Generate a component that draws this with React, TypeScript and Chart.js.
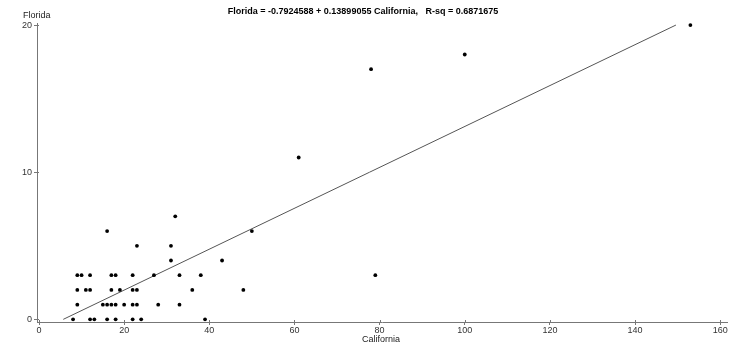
import React, { useEffect, useRef } from "react";
import { Chart, registerables } from "chart.js";

Chart.register(...registerables);

const californiaValues = [
  8, 12, 13, 16, 18, 22, 24, 39,
  9, 15, 16, 17, 18, 20, 22, 23, 28, 33,
  9, 11, 12, 17, 19, 22, 23, 36, 48,
  9, 10, 12, 17, 18, 22, 27, 33, 38, 79,
  31, 43,
  23, 31,
  16, 50,
  32,
  61,
  78,
  100,
  153,
];
const floridaValues = [
  0, 0, 0, 0, 0, 0, 0, 0,
  1, 1, 1, 1, 1, 1, 1, 1, 1, 1,
  2, 2, 2, 2, 2, 2, 2, 2, 2,
  3, 3, 3, 3, 3, 3, 3, 3, 3, 3,
  4, 4,
  5, 5,
  6, 6,
  7,
  11,
  17,
  18,
  20,
];
const intercept = -0.7924588;
const slope = 0.13899055;
const fitX = [5.7, 149.6];
const xTicks = [0, 20, 40, 60, 80, 100, 120, 140, 160];
const yTicks = [0, 10, 20];
const titleText = "Florida = -0.7924588 + 0.13899055 California,   R-sq = 0.6871675";
const xTitle = "California";
const yTitle = "Florida";

const FONT = "Arial, 'Liberation Sans', sans-serif";

const textPlugin = {
  id: "textPlugin",
  afterDraw(chart: any) {
    const ctx = chart.ctx;
    const { x, y } = chart.scales;
    const area = chart.chartArea;
    ctx.save();
    // inner half of the cross-shaped tick marks
    ctx.strokeStyle = "#777";
    ctx.lineWidth = 1;
    ctx.beginPath();
    xTicks.forEach((v) => {
      const px = Math.round(x.getPixelForValue(v)) + 0.5;
      ctx.moveTo(px, area.bottom);
      ctx.lineTo(px, area.bottom - 2);
    });
    yTicks.forEach((v) => {
      const py = Math.round(y.getPixelForValue(v)) + 0.5;
      ctx.moveTo(area.left, py);
      ctx.lineTo(area.left + 2, py);
    });
    ctx.stroke();

    ctx.fillStyle = "#000";
    ctx.textBaseline = "middle";
    ctx.textAlign = "center";
    ctx.font = `bold 9px ${FONT}`;
    ctx.fillText(titleText, 363, 12);
    ctx.fillStyle = "#222";
    ctx.font = `9px ${FONT}`;
    ctx.textAlign = "left";
    ctx.fillText(yTitle, 23, 16);
    ctx.textAlign = "center";
    ctx.fillText(xTitle, 381, 340);
    ctx.restore();
  },
};

export default function App() {
  const ref = useRef<HTMLCanvasElement>(null);
  useEffect(() => {
    const points = californiaValues.map((x, i) => ({ x, y: floridaValues[i] }));
    const fit = fitX.map((x) => ({ x, y: intercept + slope * x }));
    const chart = new Chart(ref.current!, {
      type: "scatter",
      data: {
        datasets: [
          {
            data: points,
            pointRadius: 1.9,
            pointBackgroundColor: "#000",
            pointBorderWidth: 0,
            showLine: false,
          },
          {
            data: fit,
            showLine: true,
            pointRadius: 0,
            borderColor: "#555",
            borderWidth: 1,
          },
        ],
      },
      options: {
        animation: false,
        responsive: false,
        layout: { padding: { top: 23, right: 2, left: 0, bottom: 0 } },
        plugins: { legend: { display: false }, tooltip: { enabled: false }, title: { display: false } },
        scales: {
          x: {
            type: "linear",
            min: -0.47,
            max: 161.6,
            afterFit: (s: any) => {
              s.height = 22;
            },
            afterBuildTicks: (s: any) => {
              s.ticks = xTicks.map((v) => ({ value: v }));
            },
            grid: { drawOnChartArea: false, drawTicks: true, tickLength: 3, color: "#777" },
            border: { display: true, color: "#777", width: 1 },
            ticks: { color: "#333", font: { size: 9, family: FONT }, padding: 0, maxRotation: 0, autoSkip: false },
          },
          y: {
            type: "linear",
            min: -0.18,
            max: 20.14,
            afterFit: (s: any) => {
              s.width = 37;
            },
            afterBuildTicks: (s: any) => {
              s.ticks = yTicks.map((v) => ({ value: v }));
            },
            grid: { drawOnChartArea: false, drawTicks: true, tickLength: 3, color: "#777" },
            border: { display: true, color: "#777", width: 1 },
            ticks: { color: "#333", font: { size: 9, family: FONT }, padding: 2, autoSkip: false },
          },
        },
      },
      plugins: [textPlugin],
    });
    return () => chart.destroy();
  }, []);
  return (
    <div style={{ position: "fixed", left: 0, top: 0, width: 731, height: 344, background: "#fff" }}>
      <canvas ref={ref} width={731} height={344} />
    </div>
  );
}
